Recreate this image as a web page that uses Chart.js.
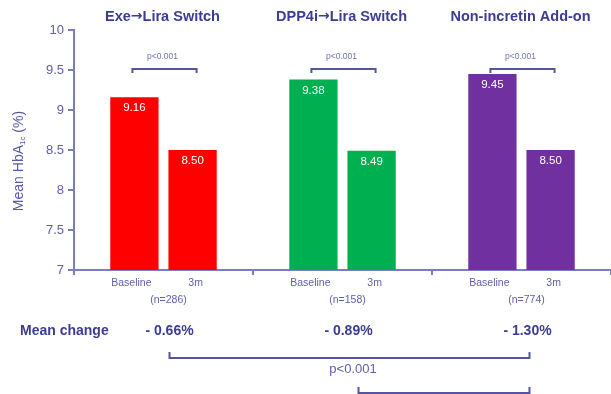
<!DOCTYPE html>
<html>
<head>
<meta charset="utf-8">
<script src="https://cdn.jsdelivr.net/npm/chart.js@4/dist/chart.umd.min.js"></script>
<style>
  html, body { margin: 0; padding: 0; background: #ffffff; }
  canvas { display: block; }
</style>
</head>
<body>
<canvas id="c" width="611" height="394"></canvas>
<script>
// Treatment groups and mean HbA1c (%) at baseline and at 3 months
const groups = ['Exe\u2192Lira Switch', 'DPP4i\u2192Lira Switch', 'Non-incretin Add-on'];
const baseline = [9.16, 9.38, 9.45];
const month3 = [8.50, 8.49, 8.50];
const timeLabels = ['Baseline', '3m'];
const sampleSizes = ['(n=286)', '(n=158)', '(n=774)'];
const meanChange = ['- 0.66%', '- 0.89%', '- 1.30%'];
const pairP = ['p<0.001', 'p<0.001', 'p<0.001'];
const acrossP = 'p<0.001';
const barColors = ['#ff0000', '#00b050', '#7030a0'];

const FONT = '"Liberation Sans", Arial, sans-serif';
const AXIS = '#7c7cc2';
const TICK = '#5e5eaa';
const DARK = '#3c3c94';
const BRACKET = '#55559f';

// draw a title centred at cx, with the arrow taken from a font that has a heavy glyph
function drawTitle(ctx, text, cx, cy) {
  const textFont = 'bold 14.5px ' + FONT;
  const arrowFont = 'bold 14px "DejaVu Sans", sans-serif';
  const pieces = [];
  text.split('\u2192').forEach((s, i, arr) => {
    pieces.push([s, textFont]);
    if (i < arr.length - 1) pieces.push(['\u2192', arrowFont]);
  });
  let total = 0;
  pieces.forEach(p => { ctx.font = p[1]; total += ctx.measureText(p[0]).width; });
  let px = cx - total / 2;
  ctx.textAlign = 'left';
  pieces.forEach(p => {
    ctx.font = p[1];
    ctx.fillText(p[0], px, cy);
    px += ctx.measureText(p[0]).width;
  });
  ctx.textAlign = 'center';
}

const overlay = {
  id: 'overlay',
  afterDraw(chart) {
    const ctx = chart.ctx;
    const x = chart.scales.x, y = chart.scales.y;
    const m0 = chart.getDatasetMeta(0), m1 = chart.getDatasetMeta(1);
    ctx.save();

    // group titles
    ctx.fillStyle = DARK;
    ctx.textAlign = 'center';
    ctx.textBaseline = 'middle';
    groups.forEach((g, i) => drawTitle(ctx, g, x.getPixelForValue(i) - 1, 16.5));

    // values inside bars
    ctx.fillStyle = '#ffffff';
    ctx.font = '11.5px ' + FONT;
    [m0, m1].forEach((meta, d) => {
      const vals = d === 0 ? baseline : month3;
      meta.data.forEach((bar, i) => {
        ctx.fillText(vals[i].toFixed(2), bar.x, bar.y + 11);
      });
    });

    // baseline vs 3m brackets
    ctx.strokeStyle = BRACKET;
    ctx.lineWidth = 2;
    const by = y.getPixelForValue(9.5) - 1;
    m0.data.forEach((bar, i) => {
      const x0 = bar.x - 2, x1 = m1.data[i].x + 4;
      ctx.beginPath();
      ctx.moveTo(x0, by + 4); ctx.lineTo(x0, by); ctx.lineTo(x1, by); ctx.lineTo(x1, by + 4);
      ctx.stroke();
      ctx.fillStyle = '#7272b4';
      ctx.font = '8.5px ' + FONT;
      ctx.fillText(pairP[i], (x0 + x1) / 2 - 2, by - 12);
    });

    // per-bar time labels
    ctx.fillStyle = TICK;
    ctx.font = '10.5px ' + FONT;
    [m0, m1].forEach((meta, d) => {
      meta.data.forEach(bar => ctx.fillText(timeLabels[d], bar.x + (d === 0 ? -3 : 3), 283));
    });

    // sample sizes
    sampleSizes.forEach((s, i) => ctx.fillText(s, x.getPixelForValue(i) + 5, 300.5));

    // mean change row
    ctx.fillStyle = DARK;
    ctx.font = 'bold 14px ' + FONT;
    ctx.textAlign = 'left';
    ctx.fillText('Mean change', 20, 331);
    ctx.textAlign = 'center';
    meanChange.forEach((t, i) => ctx.fillText(t, x.getPixelForValue(i) + 6, 331));

    // between-group brackets
    const gx = i => x.getPixelForValue(i) + 6;
    ctx.strokeStyle = BRACKET;
    ctx.beginPath();
    ctx.moveTo(gx(0), 352); ctx.lineTo(gx(0), 358); ctx.lineTo(gx(2) + 2, 358); ctx.lineTo(gx(2) + 2, 352);
    ctx.stroke();
    ctx.fillStyle = TICK;
    ctx.font = '13px ' + FONT;
    ctx.fillText(acrossP, 353, 369);
    ctx.beginPath();
    ctx.moveTo(gx(1) + 10, 387); ctx.lineTo(gx(1) + 10, 393); ctx.lineTo(gx(2) + 2, 393); ctx.lineTo(gx(2) + 2, 387);
    ctx.stroke();

    // y-axis title with subscript
    ctx.translate(19, 161);
    ctx.rotate(-Math.PI / 2);
    ctx.fillStyle = '#5858a8';
    ctx.textAlign = 'left';
    const big = '14px ' + FONT, small = '8px ' + FONT;
    const parts = [['Mean HbA', big, 0], ['1c', small, 4], [' (%)', big, 0]];
    let total = 0;
    parts.forEach(p => { ctx.font = p[1]; total += ctx.measureText(p[0]).width; });
    let cx = -total / 2;
    parts.forEach(p => {
      ctx.font = p[1];
      ctx.fillText(p[0], cx, p[2]);
      cx += ctx.measureText(p[0]).width;
    });

    ctx.restore();
  }
};

new Chart(document.getElementById('c'), {
  type: 'bar',
  data: {
    labels: groups,
    datasets: [
      { label: timeLabels[0], data: baseline, backgroundColor: barColors, categoryPercentage: 0.65, barPercentage: 0.83 },
      { label: timeLabels[1], data: month3, backgroundColor: barColors, categoryPercentage: 0.65, barPercentage: 0.83 }
    ]
  },
  options: {
    responsive: false,
    animation: false,
    layout: { padding: { left: 0, right: 0, top: 30, bottom: 114 } },
    plugins: { legend: { display: false }, tooltip: { enabled: false } },
    scales: {
      x: {
        grid: { offset: true, drawOnChartArea: false, tickLength: 5, color: AXIS, lineWidth: 2 },
        border: { color: AXIS, width: 2 },
        ticks: { display: false },
        afterFit: s => { s.height = 10; }
      },
      y: {
        min: 7, max: 10,
        ticks: { stepSize: 0.5, color: TICK, font: { family: FONT, size: 13 }, padding: 4, callback: v => String(v) },
        grid: { drawOnChartArea: false, tickLength: 6, color: AXIS, lineWidth: 2 },
        border: { color: AXIS, width: 2 },
        afterFit: s => { s.width = 74; }
      }
    }
  },
  plugins: [overlay]
});
</script>
</body>
</html>
